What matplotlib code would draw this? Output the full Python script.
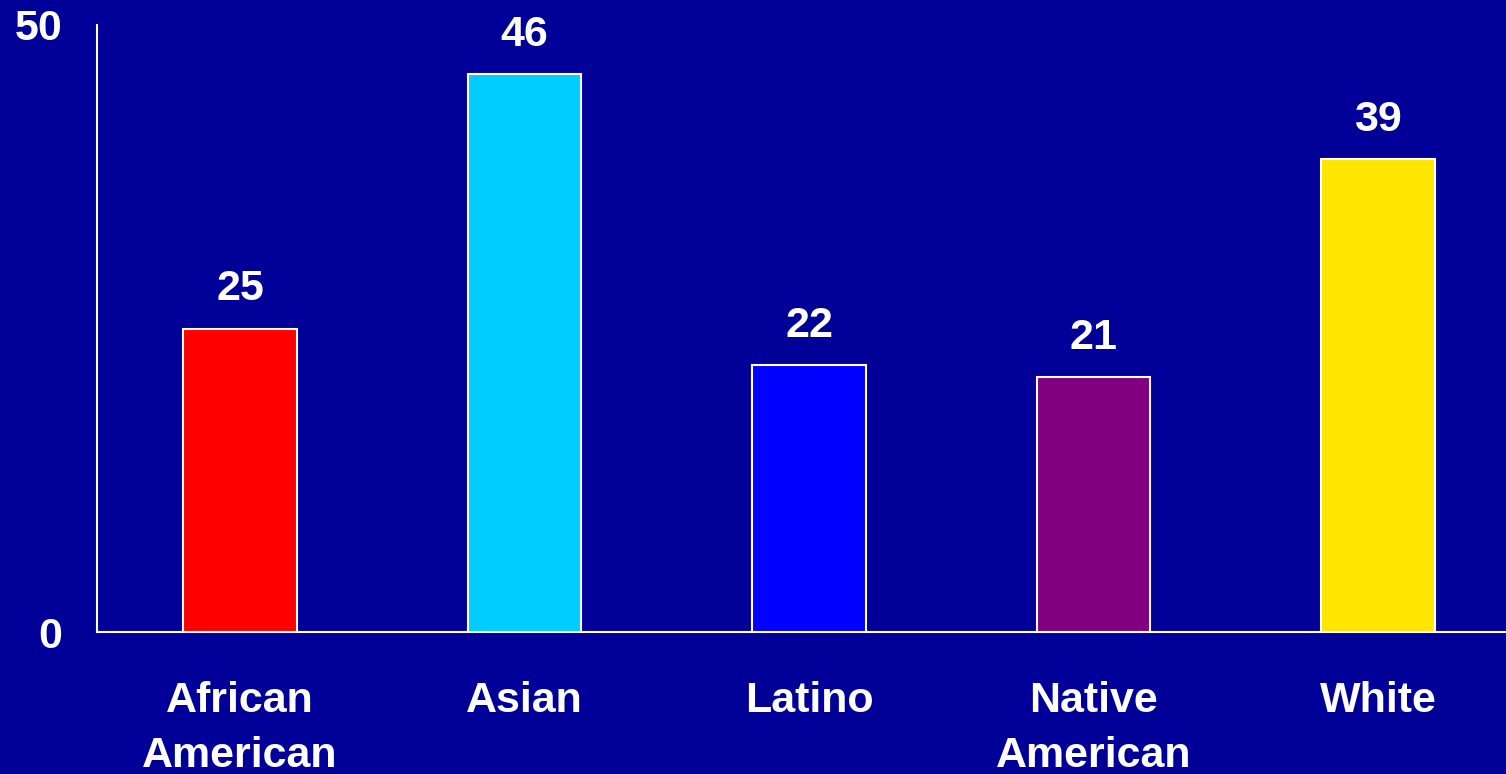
import matplotlib.pyplot as plt

groups = ['African\nAmerican', 'Asian', 'Latino', 'Native\nAmerican', 'White']
values = [25, 46, 22, 21, 39]
bar_colors = ['#ff0000', '#00ccff', '#0000ff', '#800080', '#ffe600']

bg = '#000099'
W, H = 1506, 774

plt.rcParams['font.family'] = ['Liberation Sans', 'DejaVu Sans']
plt.rcParams['font.weight'] = 'bold'

fig = plt.figure(figsize=(W / 100, H / 100), dpi=100, facecolor=bg)
ax = fig.add_axes([97 / W, (H - 632) / H, 1 - 97 / W, (632 - 25) / H])
ax.set_facecolor(bg)

x = list(range(len(groups)))
bars = ax.bar(x, values, width=0.4, color=bar_colors, edgecolor='white', linewidth=1.5, zorder=3)

for b, v in zip(bars, values):
    ax.annotate(str(v), (b.get_x() + b.get_width() / 2, v), xytext=(0, 28),
                textcoords='offset pixels', ha='center', va='baseline',
                color='white', fontsize=31, fontweight='bold')

ax.set_xlim(-0.503, 4.45)
ax.set_ylim(0, 50)
ax.set_yticks([0, 50])
ax.set_yticklabels(['0', '50'])
ax.set_xticks(x)
ax.set_xticklabels(groups, linespacing=1.5)

ax.tick_params(axis='y', length=0, pad=25, labelsize=31, labelcolor='white')
ax.tick_params(axis='x', length=0, pad=35, labelsize=31, labelcolor='white')
for lbl in ax.get_xticklabels() + ax.get_yticklabels():
    lbl.set_fontweight('bold')

for s in ['top', 'right']:
    ax.spines[s].set_visible(False)
for s in ['left', 'bottom']:
    ax.spines[s].set_color('white')
    ax.spines[s].set_linewidth(1.5)

fig.savefig('out.png', dpi=100, facecolor=bg)
